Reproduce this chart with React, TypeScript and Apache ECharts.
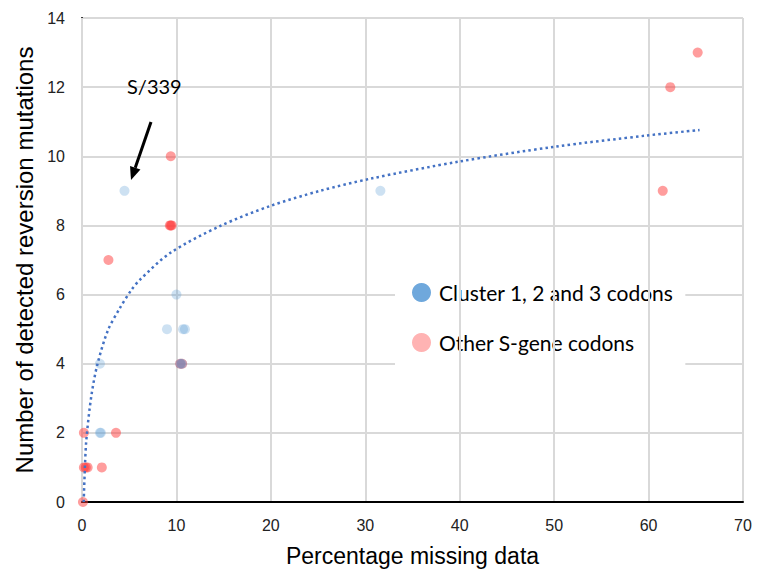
import React, { useEffect, useRef } from "react";
import * as echarts from "echarts";

// Cluster 1, 2 and 3 codons: [percentage missing data, detected reversion mutations]
const clusterPoints: number[][] = [
  [1.9, 2], [2.0, 2], [1.9, 4], [4.5, 9], [31.6, 9], [10.0, 6], [9.0, 5],
  [10.7, 5], [10.9, 5], [10.4, 4], [10.5, 4], [10.6, 4],
];

// Other S-gene codons
const otherPoints: number[][] = [
  [0.1, 0], [0.2, 1], [0.4, 1], [0.6, 1], [2.1, 1], [0.2, 2], [3.6, 2],
  [2.8, 7], [9.3, 8], [9.4, 8], [9.5, 8], [9.4, 10], [10.4, 4], [10.6, 4],
  [61.5, 9], [62.3, 12], [65.2, 13],
];

// Logarithmic trend line
const trendX: number[] = [0.18, 0.3, 0.46, 0.98, 1.62, 2.75, 3.99, 5.22, 6.1, 9.32, 14.6, 19.9, 25.2, 30.5, 40, 49.9, 59.8, 65.4];
const trendY: number[] = [0, 0.95, 1.8, 3.05, 3.97, 4.97, 5.6, 6.13, 6.42, 7.2, 7.98, 8.56, 9.0, 9.35, 9.85, 10.27, 10.6, 10.76];

const seriesNames = ["Cluster 1, 2 and 3 codons", "Other S-gene codons"];
const annotationText = "S/339";

export default function App() {
  const ref = useRef<HTMLDivElement>(null);
  useEffect(() => {
    if (!ref.current) return;
    const chart = echarts.init(ref.current, null, { renderer: "svg" });
    const trend = trendX.map((x, i) => [x, trendY[i]]);
    const labelFont = "'Liberation Sans', Arial, sans-serif";
    const legendFont = "Lato, 'Open Sans', sans-serif";
    // arrow geometry
    const tip = [131, 180];
    const start = [151, 122];
    const dx = tip[0] - start[0];
    const dy = tip[1] - start[1];
    const len = Math.sqrt(dx * dx + dy * dy);
    const ux = dx / len, uy = dy / len;
    const headLen = 13, headHalf = 5.5;
    const base = [tip[0] - ux * headLen, tip[1] - uy * headLen];
    const px = -uy, py = ux;
    chart.setOption({
      animation: false,
      grid: { left: 82, right: 32, top: 18, bottom: 71 },
      xAxis: {
        type: "value",
        min: 0,
        max: 70,
        interval: 10,
        z: 2,
        name: "Percentage missing data",
        nameLocation: "middle",
        nameGap: 42,
        nameTextStyle: { fontFamily: labelFont, fontSize: 23, color: "#000" },
        axisLine: { show: true, onZero: false, lineStyle: { color: "#000", width: 2 } },
        axisTick: { show: false },
        axisLabel: { fontFamily: labelFont, fontSize: 16, color: "#222", margin: 15 },
        splitLine: { show: true, lineStyle: { color: "#d9d9d9", width: 2 } },
      },
      yAxis: {
        type: "value",
        min: 0,
        max: 14,
        interval: 2,
        z: 0,
        name: "Number of detected reversion mutations",
        nameLocation: "middle",
        nameGap: 32,
        nameTextStyle: { fontFamily: labelFont, fontSize: 24, color: "#000" },
        axisLine: { show: true, onZero: false, lineStyle: { color: "#000", width: 2 } },
        axisTick: { show: false },
        axisLabel: { fontFamily: labelFont, fontSize: 16, color: "#222", margin: 17 },
        splitLine: { show: true, lineStyle: { color: "#d9d9d9", width: 2 } },
      },
      legend: {
        orient: "vertical",
        left: 395,
        top: 268,
        z: 1,
        padding: [14, 12, 14, 17],
        backgroundColor: "#ffffff",
        itemWidth: 19,
        itemHeight: 19,
        itemGap: 29,
        icon: "circle",
        textStyle: { fontFamily: legendFont, fontSize: 21, color: "#000", padding: [0, 0, 0, 3] },
        data: [
          { name: seriesNames[0], itemStyle: { color: "#6fa8dc", opacity: 1 } },
          { name: seriesNames[1], itemStyle: { color: "#ffb3b3", opacity: 1 } },
        ],
      },
      series: [
        {
          name: seriesNames[1],
          type: "scatter",
          z: 3,
          symbolSize: 10,
          data: otherPoints,
          itemStyle: { color: "#ff3b3b", opacity: 0.5 },
        },
        {
          name: seriesNames[0],
          type: "scatter",
          z: 4,
          symbolSize: 10,
          data: clusterPoints,
          itemStyle: { color: "#5b9bd5", opacity: 0.3 },
        },
        {
          name: "trend",
          type: "line",
          z: 5,
          data: trend,
          smooth: 0.3,
          symbol: "none",
          silent: true,
          lineStyle: { color: "#4472c4", width: 2.5, type: [2.5, 3.2] },
        },
      ],
      graphic: [
        {
          type: "text",
          left: 127,
          top: 76,
          z: 10,
          style: { text: annotationText, fontFamily: legendFont, fontSize: 20, fill: "#000" },
        },
        {
          type: "line",
          z: 10,
          shape: { x1: start[0], y1: start[1], x2: base[0], y2: base[1] },
          style: { stroke: "#000", lineWidth: 3 },
        },
        {
          type: "polygon",
          z: 10,
          shape: {
            points: [
              tip,
              [base[0] + px * headHalf, base[1] + py * headHalf],
              [base[0] - px * headHalf, base[1] - py * headHalf],
            ],
          },
          style: { fill: "#000" },
        },
      ],
    });
    return () => chart.dispose();
  }, []);
  return (
    <div
      ref={ref}
      style={{ position: "fixed", left: 0, top: 0, width: 775, height: 573, background: "#fff" }}
    />
  );
}
